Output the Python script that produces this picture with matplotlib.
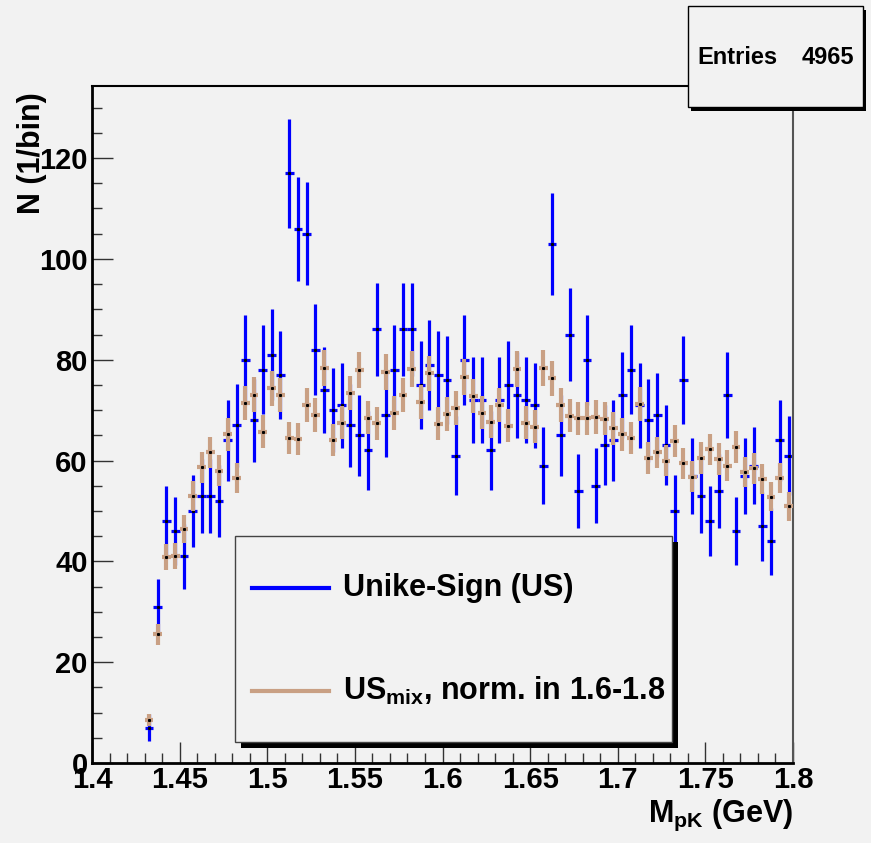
"""pK invariant mass: unlike-sign vs normalized mixed-event background (ROOT style)."""
import numpy as np
import matplotlib
matplotlib.use('Agg')
import matplotlib.pyplot as plt
from matplotlib.patches import Rectangle

plt.rcParams['font.family'] = ['Liberation Sans', 'DejaVu Sans']
plt.rcParams['font.weight'] = 'bold'
plt.rcParams['mathtext.fontset'] = 'custom'
plt.rcParams['mathtext.rm'] = 'Liberation Sans:bold'
plt.rcParams['mathtext.bf'] = 'Liberation Sans:bold'

# --- data -------------------------------------------------------------
first_center = 1.4325
bin_width = 0.005
us_counts = [7, 31, 48, 46, 41, 50, 53, 53, 52, 64,
             67, 80, 68, 78, 81, 77, 117, 106, 105, 82,
             74, 70, 71, 67, 65, 62, 86, 69, 78, 86,
             86, 75, 79, 77, 76, 61, 80, 72, 72, 62,
             72, 75, 73, 72, 71, 59, 103, 65, 85, 54,
             80, 55, 63, 64, 73, 78, 71, 68, 69, 63,
             50, 76, 57, 53, 48, 54, 73, 46, 57, 59,
             47, 44, 64, 61, 61]
mix_values = [8.5, 25.5, 40.9, 41.0, 46.4, 53.0, 58.7, 61.6, 58.0, 65.2,
              56.5, 71.4, 73.1, 65.7, 74.3, 73.0, 64.5, 64.3, 71.0, 69.0,
              78.4, 64.1, 67.5, 73.4, 78.0, 68.5, 67.4, 77.6, 69.4, 73.0,
              78.1, 71.6, 77.3, 67.3, 69.2, 70.4, 76.6, 72.8, 69.5, 67.7,
              71.0, 66.9, 78.1, 67.5, 66.7, 78.4, 76.3, 71.0, 68.9, 68.4,
              68.4, 68.6, 68.3, 66.4, 65.2, 64.5, 71.2, 60.5, 61.6, 60.0,
              63.9, 59.5, 56.8, 60.5, 62.2, 60.3, 59.0, 62.6, 57.7, 58.5,
              56.3, 52.8, 56.5, 50.9]
mix_norm = 0.16  # scale of mixed events -> error = sqrt(v * norm)
entries = 4965

x_ticks = [1.4, 1.45, 1.5, 1.55, 1.6, 1.65, 1.7, 1.75, 1.8]
x_ticklabels = ['1.4', '1.45', '1.5', '1.55', '1.6', '1.65', '1.7', '1.75', '1.8']
y_ticks = [0, 20, 40, 60, 80, 100, 120]

us = np.array(us_counts, dtype=float)
mix = np.array(mix_values)
x_us = first_center + bin_width * np.arange(len(us))
x_mix = first_center + bin_width * np.arange(len(mix))

bg = '#f2f2f2'
blue = '#0000ff'
tan = '#c9a084'

W, H = 871, 843
fig = plt.figure(figsize=(W / 100, H / 100), dpi=100, facecolor=bg)
ax = fig.add_axes([92 / W, 1 - 763 / H, (793 - 92) / W, (763 - 86) / H])
ax.set_facecolor(bg)

ax.errorbar(x_us, us, xerr=bin_width / 2, yerr=np.sqrt(us), fmt='none',
            ecolor=blue, elinewidth=2.3, capsize=0, zorder=2)
ax.plot(x_us, us, 's', ms=1.2, color='k', zorder=3)
ax.errorbar(x_mix, mix, xerr=bin_width / 2, yerr=np.sqrt(mix * mix_norm),
            fmt='none', ecolor=tan, elinewidth=3.0, capsize=0, zorder=4)
ax.plot(x_mix, mix, 's', ms=1.2, color='k', zorder=5)

ax.set_xlim(1.4, 1.8)
ax.set_ylim(0, 134.3)
ax.set_xticks(x_ticks)
ax.set_xticklabels(x_ticklabels)
ax.set_xticks(np.arange(1.4, 1.8001, 0.01), minor=True)
ax.set_yticks(y_ticks)
ax.set_yticks(np.arange(0, 135, 5), minor=True)
ax.tick_params(which='both', direction='in', top=False, right=False,
               labelsize=21, color='#333333', width=1)
ax.tick_params(which='major', length=15)
ax.tick_params(which='minor', length=7.5)
ax.tick_params(axis='x', pad=2)
ax.tick_params(axis='y', pad=3)
for lab in ax.get_xticklabels() + ax.get_yticklabels():
    lab.set_fontweight('bold')

ax.spines['left'].set_linewidth(2)
ax.spines['bottom'].set_linewidth(2)
ax.spines['top'].set_linewidth(1.5)
ax.spines['right'].set_linewidth(1.5)
ax.spines['right'].set_color('#555555')

# --- overlay in pixel coordinates for ROOT-style boxes and titles -------
ov = fig.add_axes([0, 0, 1, 1], zorder=10)
ov.set_xlim(0, W)
ov.set_ylim(H, 0)
ov.axis('off')
ov.patch.set_alpha(0)

# stats box
ov.add_patch(Rectangle((691, 10), 175, 101, fc='k', ec='none'))
ov.add_patch(Rectangle((688, 6), 175, 101, fc=bg, ec='k', lw=1))
ov.text(697, 57, 'Entries', fontsize=17, fontweight='bold', va='center', ha='left')
ov.text(854, 57, str(entries), fontsize=17, fontweight='bold', va='center', ha='right')

# legend
ov.add_patch(Rectangle((241, 542), 437, 206, fc='k', ec='none'))
ov.add_patch(Rectangle((235, 536), 437, 206, fc=bg, ec='#444444', lw=1))
ov.plot([252, 329], [588, 588], color=blue, lw=3)
ov.plot([252, 329], [691, 691], color=tan, lw=3)
ov.text(343, 588, 'Unike-Sign (US)', fontsize=22, fontweight='bold', va='center')
ov.text(343, 691, r'US$_{\mathbf{mix}}$, norm. in 1.6-1.8', fontsize=22,
        fontweight='bold', va='center')

# axis titles
ov.text(793, 822, r'M$_{\mathbf{pK}}$ (GeV)', fontsize=22, fontweight='bold',
        ha='right', va='baseline')
ov.text(32, 92, 'N (1/bin)', fontsize=22, fontweight='bold', rotation=90,
        ha='center', va='top')

fig.savefig('out.png', dpi=100, facecolor=bg)
